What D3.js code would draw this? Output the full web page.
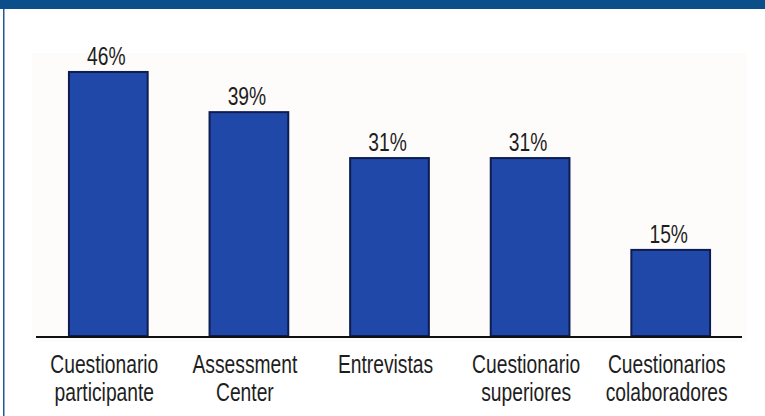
<!DOCTYPE html>
<html>
<head>
<meta charset="utf-8">
<script src="https://cdn.jsdelivr.net/npm/d3@7"></script>
<style>
  html, body { margin: 0; padding: 0; background: #fff; }
  svg { display: block; }
</style>
</head>
<body>
<div id="chart"></div>
<script>
// data
const categories = ['Cuestionario participante', 'Assessment Center', 'Entrevistas', 'Cuestionario superiores', 'Cuestionarios colaboradores'];
const labelLines = [['Cuestionario', 'participante'], ['Assessment', 'Center'], ['Entrevistas'], ['Cuestionario', 'superiores'], ['Cuestionarios', 'colaboradores']];
const values = [46, 39, 31, 31, 15];

const width = 765, height = 416;
const margin = { left: 38, right: 24, top: 49, bottom: 80 };
const squeeze = 0.77; // text in the picture is narrow

const svg = d3.select('#chart').append('svg')
    .attr('width', width)
    .attr('height', height);

// frame: top band and thin left rule
svg.append('rect').attr('x', 0).attr('y', 0).attr('width', width).attr('height', 9).attr('fill', '#0b4f8a');
svg.append('rect').attr('x', 3).attr('y', 9).attr('width', 1.5).attr('height', height - 9).attr('fill', '#1f5c96');

const x = d3.scaleBand()
    .domain(categories)
    .range([margin.left, width - margin.right])
    .paddingInner(0.44)
    .paddingOuter(0.22);

const y = d3.scaleLinear()
    .domain([0, 50])
    .range([height - margin.bottom, margin.top]);

// faint plot background
svg.append('rect')
    .attr('x', margin.left - 6)
    .attr('y', 53)
    .attr('width', width - margin.right - margin.left + 12)
    .attr('height', y(0) - 53 + 6)
    .attr('fill', '#fefcfa');

svg.append('g').attr('class', 'bars')
    .selectAll('rect')
    .data(values)
    .join('rect')
    .attr('x', (d, i) => x(categories[i]))
    .attr('y', d => y(d))
    .attr('width', x.bandwidth())
    .attr('height', d => y(0) - y(d))
    .attr('fill', '#2048a8')
    .attr('stroke', '#0e1c50')
    .attr('stroke-width', 2);

// baseline
const xAxis = d3.axisBottom(x).tickSize(0).tickFormat('');
const axisG = svg.append('g')
    .attr('transform', `translate(0,${y(0) + 1})`)
    .call(xAxis);
axisG.select('.domain')
    .attr('stroke', '#111')
    .attr('stroke-width', 2.2)
    .attr('d', `M${margin.left - 2},0H${width - margin.right + 1}`);

// value labels
svg.append('g').attr('class', 'values')
    .selectAll('text')
    .data(values)
    .join('text')
    .attr('transform', (d, i) => `translate(${x(categories[i]) + x.bandwidth() / 2 - 2},${y(d) - 7}) scale(${squeeze},1)`)
    .attr('text-anchor', 'middle')
    .attr('font-family', '"Liberation Sans", Arial, sans-serif')
    .attr('font-size', 25)
    .attr('fill', '#1e1e1e')
    .text(d => d + '%');

// category labels
const catG = svg.append('g').attr('class', 'cats')
    .selectAll('g')
    .data(categories)
    .join('g')
    .attr('transform', (d, i) => `translate(${x(d) + x.bandwidth() / 2 - 4},${y(0) + 37}) scale(${squeeze},1)`);

catG.selectAll('text')
    .data((d, i) => labelLines[i])
    .join('text')
    .attr('y', (d, j) => j * 28)
    .attr('text-anchor', 'middle')
    .attr('font-family', '"Liberation Sans", Arial, sans-serif')
    .attr('font-size', 25)
    .attr('fill', '#1e1e1e')
    .text(d => d);
</script>
</body>
</html>
